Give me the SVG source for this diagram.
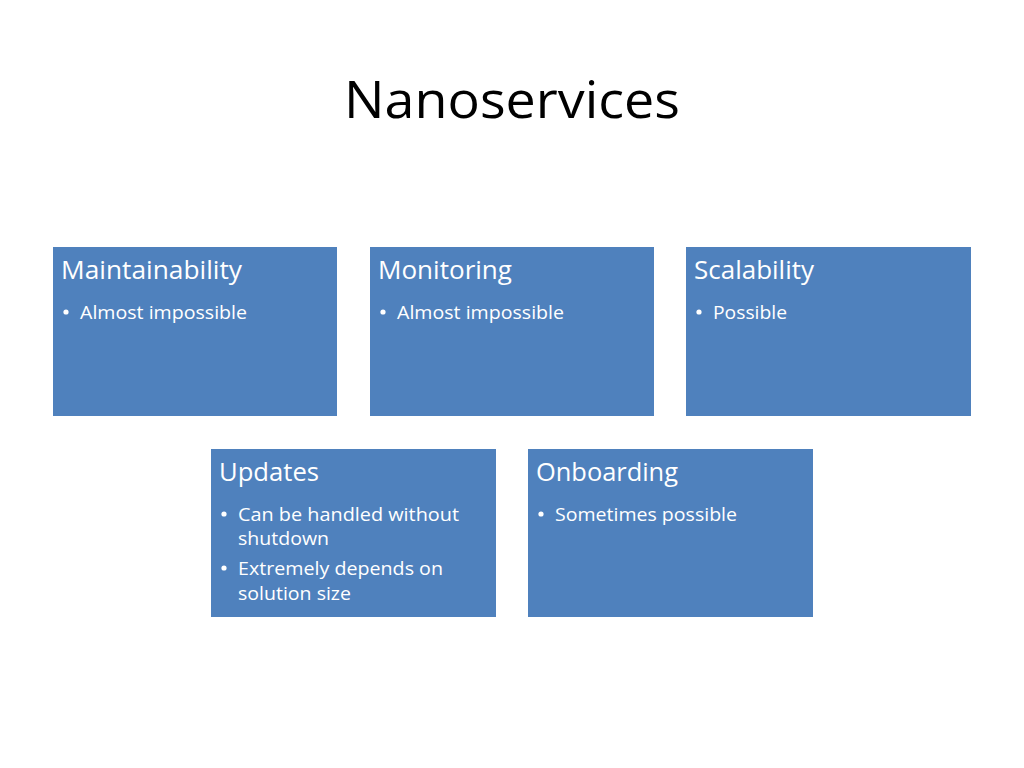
<svg xmlns="http://www.w3.org/2000/svg" width="1024" height="768" viewBox="0 0 1024 768">
<style>
.box{fill:#4F81BD;}
.t{font-family:"Open Sans","Noto Sans","Liberation Sans",sans-serif;fill:#fff;}
.h{font-size:25px;}
.b{font-size:19px;}
.title{font-family:"Open Sans","Noto Sans","Liberation Sans",sans-serif;font-size:52px;fill:#000;}
</style>
<rect width="1024" height="768" fill="#fff"/>
<text class="title" x="344" y="118" textLength="336" lengthAdjust="spacingAndGlyphs">Nanoservices</text>
<g id="maintainability">
<rect class="box" x="53" y="247" width="284" height="169"/>
<text class="t h" x="61" y="279" textLength="181" lengthAdjust="spacingAndGlyphs">Maintainability</text>
<circle cx="66" cy="312" r="2.6" fill="#fff"/>
<text class="t b" x="80" y="319" textLength="167" lengthAdjust="spacingAndGlyphs">Almost impossible</text>
</g>
<g id="monitoring">
<rect class="box" x="370" y="247" width="284" height="169"/>
<text class="t h" x="378" y="279" textLength="134" lengthAdjust="spacingAndGlyphs">Monitoring</text>
<circle cx="383" cy="312" r="2.6" fill="#fff"/>
<text class="t b" x="397" y="319" textLength="167" lengthAdjust="spacingAndGlyphs">Almost impossible</text>
</g>
<g id="scalability">
<rect class="box" x="686" y="247" width="285" height="169"/>
<text class="t h" x="694" y="279" textLength="120" lengthAdjust="spacingAndGlyphs">Scalability</text>
<circle cx="699" cy="312" r="2.6" fill="#fff"/>
<text class="t b" x="713" y="319" textLength="74" lengthAdjust="spacingAndGlyphs">Possible</text>
</g>
<g id="updates">
<rect class="box" x="211" y="449" width="285" height="168"/>
<text class="t h" x="219" y="481" textLength="100" lengthAdjust="spacingAndGlyphs">Updates</text>
<circle cx="224" cy="514" r="2.6" fill="#fff"/>
<text class="t b" x="238" y="521" textLength="221" lengthAdjust="spacingAndGlyphs">Can be handled without</text>
<text class="t b" x="238" y="545" textLength="91" lengthAdjust="spacingAndGlyphs">shutdown</text>
<circle cx="224" cy="568" r="2.6" fill="#fff"/>
<text class="t b" x="238" y="575" textLength="205" lengthAdjust="spacingAndGlyphs">Extremely depends on</text>
<text class="t b" x="238" y="600" textLength="113" lengthAdjust="spacingAndGlyphs">solution size</text>
</g>
<g id="onboarding">
<rect class="box" x="528" y="449" width="285" height="168"/>
<text class="t h" x="536" y="481" textLength="142" lengthAdjust="spacingAndGlyphs">Onboarding</text>
<circle cx="541" cy="514" r="2.6" fill="#fff"/>
<text class="t b" x="555" y="521" textLength="182" lengthAdjust="spacingAndGlyphs">Sometimes possible</text>
</g>
<g id="connectors"></g>
</svg>
